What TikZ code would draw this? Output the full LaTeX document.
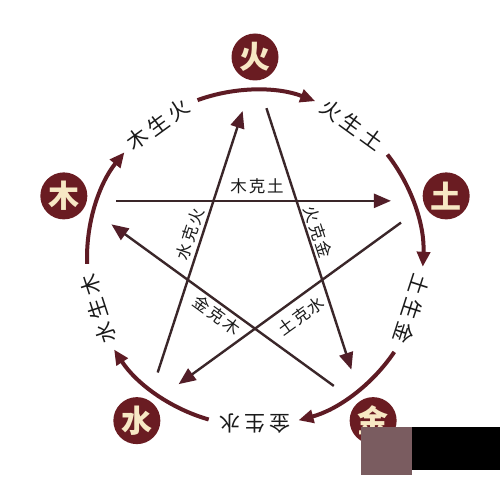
\documentclass[tikz,border=0pt]{standalone}
\usepackage{fontspec}
\newfontfamily\cjk{Noto Sans CJK SC}
\usetikzlibrary{arrows.meta,calc}
\definecolor{ringcol}{HTML}{5E1B24}
\definecolor{circcol}{HTML}{6A1C22}
\definecolor{linecol}{HTML}{3A2629}
\definecolor{tipcol}{HTML}{521E28}
\definecolor{elemtext}{HTML}{F7E8C4}
\definecolor{labtext}{HTML}{1A1A1A}
\definecolor{mauve}{HTML}{7A5C60}
\newcommand\spO[3]{#1\kern4pt#2\kern4pt#3}
\newcommand\spI[3]{#1\kern2pt#2\kern2pt#3}
\begin{document}
\begin{tikzpicture}[x=1pt,y=1pt,
  ring/.style={line width=4pt, draw=ringcol, -{Triangle[length=15pt,width=13pt]}},
  star/.style={line width=2.4pt, draw=linecol, -{Triangle[length=17pt,width=14pt,color=tipcol]}, shorten <=37pt, shorten >=40pt},
  elem/.style={circle, fill=circcol, minimum size=47pt, inner sep=0pt, text=elemtext, font=\cjk\bfseries\fontsize{31}{31}\selectfont},
  outlab/.style={font=\cjk\fontsize{21}{21}\selectfont, text=labtext, inner sep=0pt},
  inlab/.style={font=\cjk\fontsize{16.5}{16.5}\selectfont, text=labtext, inner sep=0pt}]
\useasboundingbox (0,0) rectangle (500,480);
\fill[white] (0,0) rectangle (500,480);
\coordinate (C) at (255,222);
% pentagram vertices
\coordinate (V1) at ($(C)+(90:185)$);
\coordinate (V2) at ($(C)+(18:185)$);
\coordinate (V3) at ($(C)+(-54:185)$);
\coordinate (V4) at ($(C)+(234:185)$);
\coordinate (V5) at ($(C)+(162:185)$);
% ring arcs
\foreach \a in {162,90,18,-54,-126}
  \draw[ring] ($(C)+(\a+20:168)$) arc[start angle=\a+20, end angle=\a-21, radius=168];
% star lines
\draw[star] (V5) -- (V2);
\draw[star] (V1) -- (V3);
\draw[star] (V3) -- (V5);
\draw[star] (V4) -- (V1);
\draw[star] (V2) -- (V4);
% elements
\node[elem] (huo) at ($(C)+(90:201)$) {火};
\node[elem] (tu) at ($(C)+(18:201)$) {土};
\node[elem] (jin) at ($(C)+(-54:201)$) {金};
\node[elem] (shui) at ($(C)+(234:201)$) {水};
\node[elem] (mu) at ($(C)+(162:201)$) {木};
% outer labels
\node[outlab, rotate=36] (l1) at ($(C)+(126:165)$) {\spO{木}{生}{火}};
\node[outlab, rotate=-36] (l2) at ($(C)+(54:165)$) {\spO{火}{生}{土}};
\node[outlab, rotate=-108] (l3) at ($(C)+(-18:165)$) {\spO{土}{生}{金}};
\node[outlab, rotate=-180] (l4) at ($(C)+(-90:166)$) {\spO{金}{生}{水}};
\node[outlab, rotate=108] (l5) at ($(C)+(198:165)$) {\spO{水}{生}{木}};
% inner labels
\node[inlab] (k1) at (257,294) {\spI{木}{克}{土}};
\node[inlab, rotate=72] (k2) at (190,246) {\spI{水}{克}{火}};
\node[inlab, rotate=-72] (k3) at (318,248) {\spI{火}{克}{金}};
\node[inlab, rotate=-36] (k4) at (217,165) {\spI{金}{克}{木}};
\node[inlab, rotate=36] (k5) at (301,164) {\spI{土}{克}{水}};
% overlay artefact
\fill[mauve] (361,5) rectangle (412,53);
\fill[black] (412,10) rectangle (500,53);
\end{tikzpicture}
\end{document}
